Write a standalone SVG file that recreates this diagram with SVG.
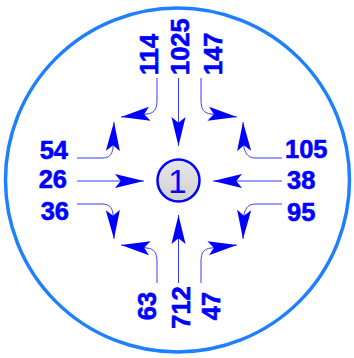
<svg xmlns="http://www.w3.org/2000/svg" width="354" height="358" viewBox="0 0 354 358">
<defs>
<style>
.lbl{font-family:"Liberation Sans",Arial,sans-serif;font-weight:bold;font-size:25.5px;fill:#0000ff;stroke:#0000ff;stroke-width:0.6}
.ln{fill:none;stroke:#3a3aff;stroke-width:1}
</style>
<marker id="ah" markerUnits="userSpaceOnUse" markerWidth="30" markerHeight="16" viewBox="-28 -7 29 14" refX="0" refY="0" orient="auto">
<path d="M0,0 L-28,-6.8 L-22.5,0 L-28,6.8 Z" fill="#0000ff"/>
</marker>
<linearGradient id="g" x1="0" y1="0" x2="0" y2="1">
<stop offset="0" stop-color="#e6e6e6"/>
<stop offset="1" stop-color="#d2d2d2"/>
</linearGradient>
</defs>
<rect width="354" height="358" fill="#ffffff"/>
<circle cx="177.5" cy="180" r="172" fill="none" stroke="#1e80ff" stroke-width="3.5"/>
<g id="connectors">
<path class="ln" d="M178.5,78 V146" marker-end="url(#ah)"/>
<path class="ln" d="M178.5,283 V215" marker-end="url(#ah)"/>
<path class="ln" d="M77,181 H144" marker-end="url(#ah)"/>
<path class="ln" d="M282,181 H213" marker-end="url(#ah)"/>
<path class="ln" d="M157,78 V100 C157,110 154,113 147,114 L121,117" marker-end="url(#ah)"/>
<path class="ln" d="M201,78 V100 C201,110 204,113 211,114 L237,117" marker-end="url(#ah)"/>
<path class="ln" d="M77,158 H102 C109,158 112,155 113,148 L114,122" marker-end="url(#ah)"/>
<path class="ln" d="M77,204 H102 C109,204 112,207 113,214 L114,239" marker-end="url(#ah)"/>
<path class="ln" d="M282,158 H256 C249,158 246,155 244,148 L243,122" marker-end="url(#ah)"/>
<path class="ln" d="M282,204 H256 C249,204 246,207 244,214 L243,239" marker-end="url(#ah)"/>
<path class="ln" d="M157,283 V262 C157,252 154,249 147,248 L121,245" marker-end="url(#ah)"/>
<path class="ln" d="M201,283 V262 C201,252 204,249 211,248 L237,245" marker-end="url(#ah)"/>
</g>
<g id="center">
<circle cx="178.5" cy="180.5" r="21" fill="url(#g)" stroke="#0000ff" stroke-width="2.5"/>
<text x="177.5" y="193" text-anchor="middle" font-family="Liberation Sans, Arial, sans-serif" font-size="33" fill="#0000ff">1</text>
</g>
<g id="n114"><text class="lbl" transform="translate(157.5,75) rotate(-90)">114</text></g>
<g id="n1025"><text class="lbl" transform="translate(189,75) rotate(-90)">1025</text></g>
<g id="n147"><text class="lbl" transform="translate(221.5,75) rotate(-90)">147</text></g>
<g id="n63"><text class="lbl" text-anchor="middle" transform="translate(156,306) rotate(-90)">63</text></g>
<g id="n712"><text class="lbl" text-anchor="middle" transform="translate(189.5,307.5) rotate(-90)">712</text></g>
<g id="n47"><text class="lbl" text-anchor="middle" transform="translate(219.5,306) rotate(-90)">47</text></g>
<g id="n54"><text class="lbl" text-anchor="end" x="68" y="159">54</text></g>
<g id="n26"><text class="lbl" text-anchor="end" x="67" y="188">26</text></g>
<g id="n36"><text class="lbl" text-anchor="end" x="69" y="220">36</text></g>
<g id="n105"><text class="lbl" x="285" y="158">105</text></g>
<g id="n38"><text class="lbl" x="287" y="189">38</text></g>
<g id="n95"><text class="lbl" x="287" y="221">95</text></g>
</svg>
